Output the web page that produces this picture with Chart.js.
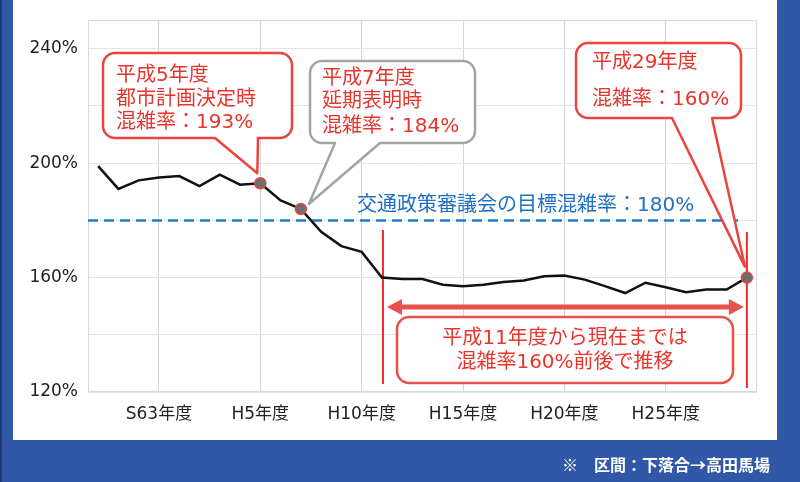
<!DOCTYPE html>
<html>
<head>
<meta charset="utf-8">
<script src="https://cdn.jsdelivr.net/npm/chart.js@4"></script>
<style>
  body { margin: 0; background: #3158a6; }
  #wrap { width: 800px; height: 482px; }
</style>
</head>
<body>
<div id="wrap"><canvas id="congestionChart"></canvas></div>
<script>
// 混雑率（下落合→高田馬場）S60年度〜H29年度
const categories = [
  "S60年度", "S61年度", "S62年度", "S63年度", "H1年度", "H2年度", "H3年度", "H4年度",
  "H5年度", "H6年度", "H7年度", "H8年度", "H9年度", "H10年度", "H11年度", "H12年度",
  "H13年度", "H14年度", "H15年度", "H16年度", "H17年度", "H18年度", "H19年度", "H20年度",
  "H21年度", "H22年度", "H23年度", "H24年度", "H25年度", "H26年度", "H27年度", "H28年度",
  "H29年度"
];
const congestion = [
  199, 191, 194, 195, 195.5, 192, 196, 192.5,
  193, 187, 184, 176, 171, 169, 160, 159.5,
  159.5, 157.5, 157, 157.5, 158.5, 159, 160.5, 160.7,
  159.3, 157, 154.6, 158.2, 156.6, 154.9, 155.8, 155.8,
  160
];
const tickLabels = ["S63年度", "H5年度", "H10年度", "H15年度", "H20年度", "H25年度"];
const yTickLabels = [120, 160, 200, 240];
const markedIdx = [8, 10, 32];   // H5, H7, H29
const targetRate = 180;
const trendStartIdx = 14;         // H11

const FONT = "'DejaVu Sans', 'Noto Sans CJK JP', sans-serif";
const RED = "#e8453c";
const RED_TEXT = "#e8352c";

function roundRect(ctx, x, y, w, h, r) {
  ctx.beginPath();
  ctx.moveTo(x + r, y);
  ctx.lineTo(x + w - r, y);
  ctx.arcTo(x + w, y, x + w, y + r, r);
  ctx.lineTo(x + w, y + h - r);
  ctx.arcTo(x + w, y + h, x + w - r, y + h, r);
  ctx.lineTo(x + r, y + h);
  ctx.arcTo(x, y + h, x, y + h - r, r);
  ctx.lineTo(x, y + r);
  ctx.arcTo(x, y, x + r, y, r);
  ctx.closePath();
}

// rounded box with a tail leaving the bottom edge
function callout(ctx, b, color) {
  const { x, y, w, h, r, t1, t2, tipX, tipY } = b;
  ctx.beginPath();
  ctx.moveTo(x + r, y);
  ctx.lineTo(x + w - r, y);
  ctx.arcTo(x + w, y, x + w, y + r, r);
  ctx.lineTo(x + w, y + h - r);
  ctx.arcTo(x + w, y + h, x + w - r, y + h, r);
  ctx.lineTo(t2, y + h);
  ctx.lineTo(tipX, tipY);
  ctx.lineTo(t1, y + h);
  ctx.lineTo(x + r, y + h);
  ctx.arcTo(x, y + h, x, y + h - r, r);
  ctx.lineTo(x, y + r);
  ctx.arcTo(x, y, x + r, y, r);
  ctx.closePath();
  ctx.fillStyle = "#fff";
  ctx.fill();
  ctx.lineWidth = 2.5;
  ctx.lineJoin = "round";
  ctx.strokeStyle = color;
  ctx.stroke();
}

function textLines(ctx, lines, x, ys, align) {
  ctx.font = "20px " + FONT;
  ctx.fillStyle = RED_TEXT;
  ctx.textAlign = align || "left";
  ctx.textBaseline = "middle";
  lines.forEach((s, i) => ctx.fillText(s, x, ys[i]));
}

const framePlugin = {
  id: "frame",
  beforeDraw(chart) {
    const ctx = chart.ctx;
    ctx.save();
    ctx.fillStyle = "#3158a6";
    ctx.fillRect(0, 0, 800, 482);
    ctx.fillStyle = "#1e3a78";
    ctx.fillRect(0, 0, 2, 482);
    ctx.fillStyle = "#fff";
    ctx.fillRect(13, 0, 764, 440);
    ctx.restore();
  },
  beforeDatasetsDraw(chart) {
    const ctx = chart.ctx;
    const xs = chart.scales.x, ys = chart.scales.y;
    const a = chart.chartArea;
    ctx.save();

    // plot border
    ctx.strokeStyle = "#d6d8da";
    ctx.lineWidth = 1;
    ctx.strokeRect(a.left + 0.5, a.top + 0.5, a.right - a.left - 1, a.bottom - a.top - 1);

    const xEnd = xs.getPixelForValue(markedIdx[2]);
    const xStart = xs.getPixelForValue(trendStartIdx) + 1;

    // target congestion rate
    const ty = ys.getPixelForValue(targetRate);
    ctx.strokeStyle = "#1f7bd0";
    ctx.lineWidth = 2.5;
    ctx.setLineDash([10, 6]);
    ctx.beginPath();
    ctx.moveTo(a.left, ty);
    ctx.lineTo(xEnd - 3, ty);
    ctx.stroke();
    ctx.setLineDash([]);
    ctx.font = "20px " + FONT;
    ctx.fillStyle = "#1f6fc4";
    ctx.textAlign = "left";
    ctx.textBaseline = "middle";
    ctx.fillText("交通政策審議会の目標混雑率：" + targetRate + "%", 357, ty - 15);

    // vertical red lines
    ctx.strokeStyle = "#ee2b24";
    ctx.lineWidth = 2;
    ctx.beginPath();
    ctx.moveTo(xStart, 230); ctx.lineTo(xStart, 384);
    ctx.moveTo(xEnd, 232); ctx.lineTo(xEnd, 388);
    ctx.stroke();

    // double arrow
    const ay = 307, l = xStart + 4, r = xEnd - 3;
    ctx.strokeStyle = "#e8504a";
    ctx.fillStyle = "#e8504a";
    ctx.lineWidth = 5;
    ctx.beginPath();
    ctx.moveTo(l + 10, ay); ctx.lineTo(r - 10, ay);
    ctx.stroke();
    ctx.beginPath();
    ctx.moveTo(l, ay); ctx.lineTo(l + 15, ay - 8); ctx.lineTo(l + 15, ay + 8); ctx.closePath();
    ctx.moveTo(r, ay); ctx.lineTo(r - 15, ay - 8); ctx.lineTo(r - 15, ay + 8); ctx.closePath();
    ctx.fill();

    // trend note box
    roundRect(ctx, 397, 317, 336, 66, 12);
    ctx.fillStyle = "#fff";
    ctx.fill();
    ctx.strokeStyle = "#e8504a";
    ctx.lineWidth = 2.5;
    ctx.stroke();
    textLines(ctx, ["平成11年度から現在までは", "混雑率160%前後で推移"], 565, [339, 363], "center");

    // callouts
    const p = markedIdx.map(i => ({ x: xs.getPixelForValue(i), y: ys.getPixelForValue(congestion[i]) }));
    callout(ctx, { x: 103, y: 53, w: 189, h: 85, r: 12, t1: 215, t2: 258, tipX: p[0].x - 3, tipY: p[0].y - 10 }, RED);
    textLines(ctx, ["平成5年度", "都市計画決定時", "混雑率：" + congestion[8] + "%"], 116, [76, 100, 123]);

    callout(ctx, { x: 310, y: 61, w: 165, h: 82, r: 12, t1: 335, t2: 380, tipX: p[1].x + 8, tipY: p[1].y - 5 }, "#a0a5a8");
    textLines(ctx, ["平成7年度", "延期表明時", "混雑率：" + congestion[10] + "%"], 322, [79, 102, 127]);

    callout(ctx, { x: 576, y: 43, w: 165, h: 75, r: 12, t1: 672, t2: 712, tipX: p[2].x - 2, tipY: p[2].y - 11 }, RED);
    textLines(ctx, ["平成29年度", "混雑率：" + congestion[32] + "%"], 592, [63, 100]);

    ctx.restore();
  },
  afterDraw(chart) {
    const ctx = chart.ctx;
    ctx.save();
    ctx.font = "bold 16px 'Noto Sans CJK JP', sans-serif";
    ctx.fillStyle = "#fff";
    ctx.textAlign = "right";
    ctx.textBaseline = "middle";
    ctx.fillText("※　区間：下落合→高田馬場", 770, 465);
    ctx.restore();
  }
};

const ctx = document.getElementById("congestionChart").getContext("2d");
const congestionChart = new Chart(ctx, {
  type: "line",
  data: {
    labels: categories,
    datasets: [
      {
        label: "混雑率",
        data: congestion,
        borderColor: "#111",
        borderWidth: 2.5,
        tension: 0,
        pointRadius: congestion.map((v, i) => markedIdx.includes(i) ? 5.5 : 0),
        pointBackgroundColor: "#6d6e70",
        pointBorderColor: "#e8453c",
        pointBorderWidth: 1.5,
      },
    ],
  },
  options: {
    responsive: true,
    maintainAspectRatio: false,
    animation: false,
    layout: { padding: { left: 0, right: 43, top: 20, bottom: 0 } },
    plugins: { legend: { display: false }, tooltip: { enabled: false } },
    scales: {
      x: {
        offset: true,
        afterFit: (s) => { s.height = 90; },
        grid: {
          offset: false,
          drawTicks: false,
          color: (c) => tickLabels.includes(categories[c.tick && c.tick.value]) ? "#d3d6d8" : "rgba(0,0,0,0)",
        },
        border: { display: false },
        ticks: {
          autoSkip: false,
          maxRotation: 0,
          padding: 12,
          color: "#222",
          font: { family: FONT, size: 17 },
          callback: (v) => tickLabels.includes(categories[v]) ? categories[v] : "",
        },
      },
      y: {
        min: 120,
        max: 250,
        afterFit: (s) => { s.width = 88; },
        grid: { drawTicks: false, color: "#e4e4e4" },
        border: { display: false },
        ticks: {
          stepSize: 20,
          padding: 10,
          color: "#222",
          font: { family: FONT, size: 17 },
          callback: (v) => yTickLabels.includes(v) ? v + "%" : "",
        },
      },
    },
  },
  plugins: [framePlugin],
});
</script>
</body>
</html>
